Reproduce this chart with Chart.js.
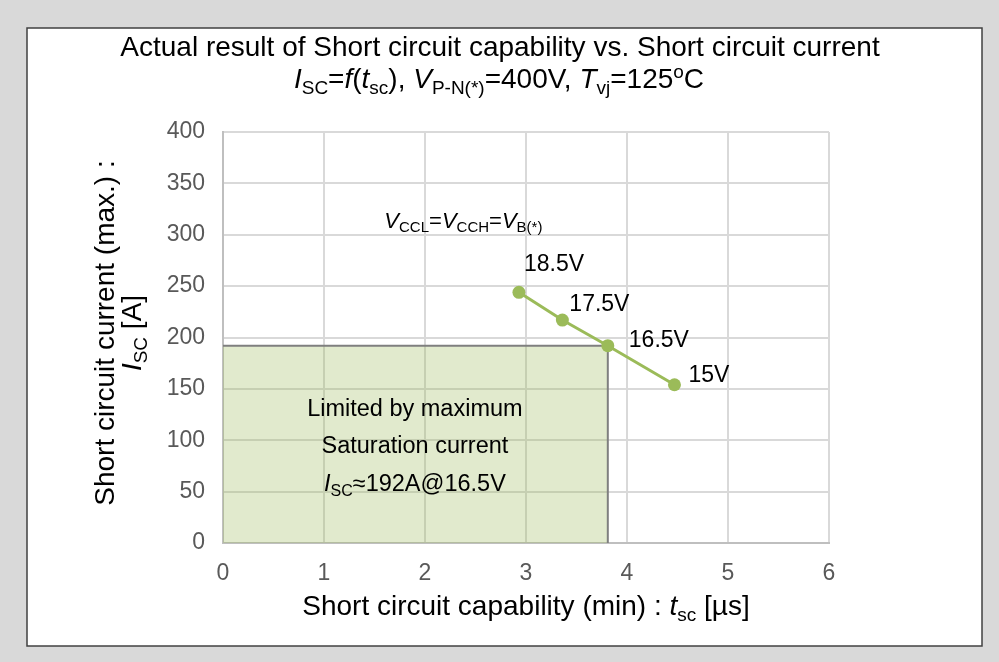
<!DOCTYPE html>
<html>
<head>
<meta charset="utf-8">
<script src="https://cdn.jsdelivr.net/npm/chart.js@4.4.1/dist/chart.umd.min.js"></script>
<style>
  html, body { margin: 0; padding: 0; background: #d9d9d9; }
  #wrap { width: 999px; height: 662px; }
</style>
</head>
<body>
<div id="wrap"><canvas id="chart" width="999" height="662"></canvas></div>
<script>
// measured points: short circuit capability tsc [us] vs current Isc [A]
const tscValues = [2.93, 3.36, 3.81, 4.47];
const iscValues = [244, 217, 192, 154];
const gateVoltages = ['18.5V', '17.5V', '16.5V', '15V'];

// saturation current limit box
const limitTsc = 3.81;
const limitIsc = 192;

const xMin = 0, xMax = 6, xStep = 1;
const yMin = 0, yMax = 400, yStep = 50;

const FONT = '"Liberation Sans", Arial, sans-serif';

// draws a line of text made of parts: [text, flags] ('i' italic, '_' subscript, '^' superscript)
function richText(ctx, parts, x, y, size, align) {
  const fontFor = (fl) => (fl.includes('i') ? 'italic ' : '') +
    ((fl.includes('_') || fl.includes('^')) ? Math.round(size * 0.68) : size) + 'px ' + FONT;
  let w = 0;
  parts.forEach(([t, fl]) => { ctx.font = fontFor(fl); w += ctx.measureText(t).width; });
  let cx = align === 'center' ? x - w / 2 : x;
  ctx.textAlign = 'left';
  ctx.textBaseline = 'alphabetic';
  parts.forEach(([t, fl]) => {
    ctx.font = fontFor(fl);
    let dy = 0;
    if (fl.includes('_')) dy = size * 0.22;
    if (fl.includes('^')) dy = -size * 0.36;
    ctx.fillText(t, cx, y + dy);
    cx += ctx.measureText(t).width;
  });
}

const frame = {
  id: 'frame',
  beforeDraw(chart) {
    const ctx = chart.ctx;
    ctx.save();
    ctx.fillStyle = '#d9d9d9';
    ctx.fillRect(0, 0, chart.width, chart.height);
    ctx.fillStyle = '#ffffff';
    ctx.fillRect(27, 28, 955, 618);
    ctx.strokeStyle = '#404040';
    ctx.lineWidth = 1.5;
    ctx.strokeRect(27, 28, 955, 618);
    ctx.restore();
  }
};

const labels = {
  id: 'labels',
  afterDraw(chart) {
    const ctx = chart.ctx;
    const xs = chart.scales.x, ys = chart.scales.y;
    const area = chart.chartArea;
    ctx.save();
    ctx.fillStyle = '#000000';

    // title
    richText(ctx, [['Actual result of Short circuit capability vs. Short circuit current', '']],
      500, 56, 28, 'center');
    richText(ctx, [['I', 'i'], ['SC', '_'], ['=', ''], ['f', 'i'], ['(', ''], ['t', 'i'], ['sc', '_'],
      ['), ', ''], ['V', 'i'], ['P-N(*)', '_'], ['=400V, ', ''], ['T', 'i'], ['vj', '_'],
      ['=125', ''], ['o', '^'], ['C', '']], 499, 88, 28, 'center');

    // axis titles
    const cxArea = (area.left + area.right) / 2;
    richText(ctx, [['Short circuit capability (min) : ', ''], ['t', 'i'], ['sc', '_'], [' [\u00b5s]', '']],
      cxArea, 615, 28, 'center');
    ctx.save();
    ctx.translate(114, 333);
    ctx.rotate(-Math.PI / 2);
    richText(ctx, [['Short circuit current (max.) :', '']], 0, 0, 28, 'center');
    richText(ctx, [['I', 'i'], ['SC', '_'], [' [A]', '']], 0, 27, 28, 'center');
    ctx.restore();

    // voltage condition note
    richText(ctx, [['V', 'i'], ['CCL', '_'], ['=', ''], ['V', 'i'], ['CCH', '_'], ['=', ''],
      ['V', 'i'], ['B(*)', '_']], xs.getPixelForValue(2.38), ys.getPixelForValue(307), 22, 'center');

    // point labels
    const offs = [[5, -21], [7, -9], [21, 1], [14, -3]];
    gateVoltages.forEach((v, i) => {
      const px = xs.getPixelForValue(tscValues[i]);
      const py = ys.getPixelForValue(iscValues[i]);
      richText(ctx, [[v, '']], px + offs[i][0], py + offs[i][1], 23, 'left');
    });

    // text inside limit box
    const bx = xs.getPixelForValue(1.9);
    richText(ctx, [['Limited by maximum', '']], bx, ys.getPixelForValue(124), 23.5, 'center');
    richText(ctx, [['Saturation current', '']], bx, ys.getPixelForValue(88), 23.5, 'center');
    richText(ctx, [['I', 'i'], ['SC', '_'], ['\u2248192A@16.5V', '']], bx, ys.getPixelForValue(51), 23.5, 'center');
    ctx.restore();
  }
};

new Chart(document.getElementById('chart'), {
  type: 'scatter',
  data: {
    datasets: [{
      label: 'Isc',
      data: tscValues.map((t, i) => ({ x: t, y: iscValues[i] })),
      showLine: true,
      borderColor: '#9bbb59',
      borderWidth: 3,
      pointRadius: 6.5,
      pointBackgroundColor: '#9bbb59',
      pointBorderWidth: 0,
      fill: false
    }, {
      label: 'limit',
      data: [{ x: xMin, y: limitIsc }, { x: limitTsc, y: limitIsc }, { x: limitTsc, y: yMin }],
      showLine: true,
      borderColor: '#7f7f7f',
      borderWidth: 2,
      pointRadius: 0,
      backgroundColor: 'rgba(155, 187, 89, 0.3)',
      fill: 'origin'
    }]
  },
  options: {
    responsive: false,
    animation: false,
    layout: { padding: { left: 0, top: 132, right: 170, bottom: 0 } },
    plugins: {
      legend: { display: false },
      tooltip: { enabled: false }
    },
    scales: {
      x: {
        type: 'linear',
        min: xMin, max: xMax,
        ticks: { stepSize: xStep, color: '#595959', font: { size: 23, family: FONT }, padding: 17 },
        grid: { color: '#d9d9d9', lineWidth: 2, drawTicks: false },
        border: { color: '#bfbfbf', width: 2 },
        afterFit(scale) { scale.height = 119; }
      },
      y: {
        min: yMin, max: yMax,
        ticks: { stepSize: yStep, color: '#595959', font: { size: 23, family: FONT }, padding: 18 },
        grid: { color: '#d9d9d9', lineWidth: 2, drawTicks: false },
        border: { color: '#bfbfbf', width: 2 },
        afterFit(scale) { scale.width = 223; }
      }
    }
  },
  plugins: [frame, labels]
});
</script>
</body>
</html>
